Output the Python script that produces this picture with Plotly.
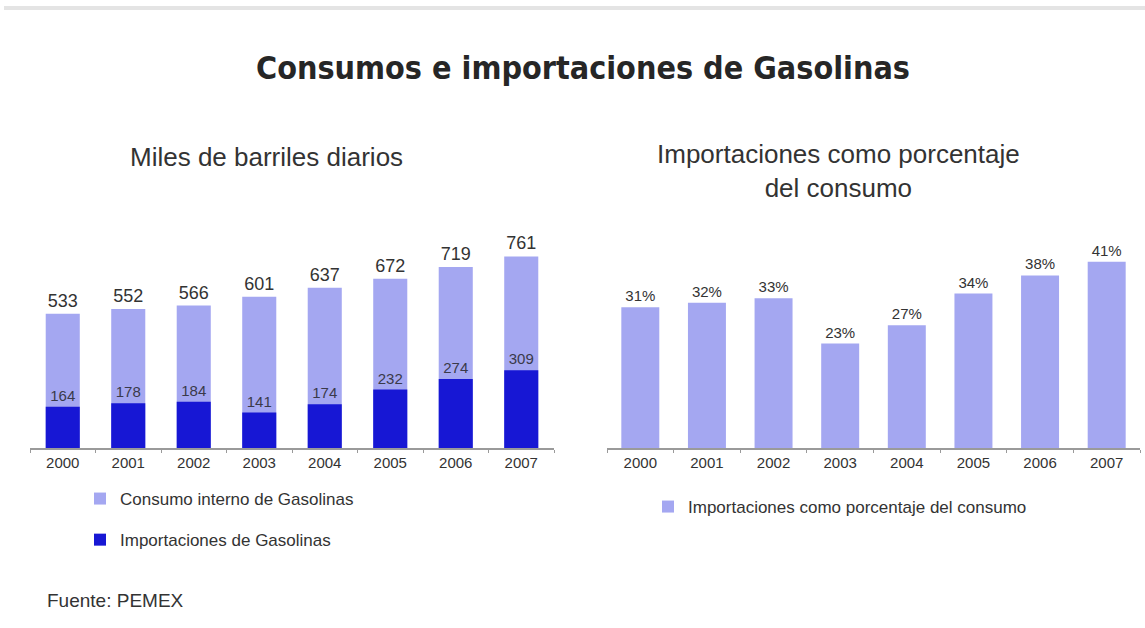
import plotly.graph_objects as go

years = ["2000", "2001", "2002", "2003", "2004", "2005", "2006", "2007"]
consumo = [533, 552, 566, 601, 637, 672, 719, 761]
importaciones = [164, 178, 184, 141, 174, 232, 274, 309]
porcentaje = [31, 32, 33, 23, 27, 34, 38, 41]

LIGHT = "#a4a7f1"
DARK = "#1717d4"
TXT = "#333333"
FONT = "Liberation Sans, Arial, sans-serif"

W, H = 1145, 628
def px_x(p): return p / W
def px_y(p): return 1 - p / H

fig = go.Figure()
fig.add_trace(go.Bar(
    x=years, y=consumo, name="Consumo interno de Gasolinas",
    marker=dict(color=LIGHT, line=dict(width=0)), width=0.52,
    text=[str(v) for v in consumo], textposition="outside",
    textfont=dict(size=18, color=TXT, family=FONT), cliponaxis=False,
    xaxis="x", yaxis="y", legend="legend", legendgroup="a",
))
fig.add_trace(go.Bar(
    x=years, y=importaciones, name="Importaciones de Gasolinas",
    marker=dict(color=DARK, line=dict(width=0)), width=0.52,
    text=[str(v) for v in importaciones], textposition="outside",
    textfont=dict(size=15, color="#3a3a4a", family=FONT), cliponaxis=False,
    xaxis="x", yaxis="y", legend="legend", legendgroup="b",
))
fig.add_trace(go.Bar(
    x=years, y=porcentaje, name="Importaciones como porcentaje del consumo",
    marker=dict(color=LIGHT, line=dict(width=0)), width=0.57,
    text=[f"{v}%" for v in porcentaje], textposition="outside",
    textfont=dict(size=15, color=TXT, family=FONT), cliponaxis=False,
    xaxis="x2", yaxis="y2", legend="legend2",
))

ydom = [px_y(448), px_y(230)]
axis_common = dict(
    showline=True, linecolor="#9a9a9a", linewidth=1.5,
    ticks="outside", tickson="boundaries", ticklen=3, tickcolor="#9a9a9a",
    tickfont=dict(size=15, color=TXT, family=FONT), showgrid=False,
    fixedrange=True,
)
fig.update_layout(
    width=W, height=H,
    margin=dict(l=0, r=0, t=0, b=0),
    paper_bgcolor="white", plot_bgcolor="white",
    barmode="overlay",
    font=dict(family=FONT, color=TXT),
    xaxis=dict(domain=[px_x(30), px_x(554)], anchor="y", **axis_common),
    yaxis=dict(domain=ydom, range=[0, 866], visible=False, anchor="x"),
    xaxis2=dict(domain=[px_x(607), px_x(1140)], anchor="y2", **axis_common),
    yaxis2=dict(domain=ydom, range=[0, 48], visible=False, anchor="x2"),
    legend=dict(
        x=px_x(80), y=px_y(481), xanchor="left", yanchor="top",
        orientation="v", tracegroupgap=16,
        font=dict(size=17, color=TXT, family=FONT), bgcolor="rgba(0,0,0,0)",
    ),
    legend2=dict(
        x=px_x(648), y=px_y(489), xanchor="left", yanchor="top",
        orientation="v",
        font=dict(size=17, color=TXT, family=FONT), bgcolor="rgba(0,0,0,0)",
    ),
    showlegend=True,
    annotations=[
        dict(text="<b>Consumos e importaciones de Gasolinas</b>", x=px_x(583), y=px_y(68),
             xref="paper", yref="paper", xanchor="center", yanchor="middle",
             showarrow=False,
             font=dict(size=32, color="#262626", family="DejaVu Sans Condensed, sans-serif")),
        dict(text="Miles de barriles diarios", x=px_x(266), y=px_y(157),
             xref="paper", yref="paper", xanchor="center", yanchor="middle",
             showarrow=False, font=dict(size=26, color=TXT, family=FONT)),
        dict(text="Importaciones como porcentaje<br>del consumo", x=px_x(838), y=px_y(171),
             xref="paper", yref="paper", xanchor="center", yanchor="middle",
             showarrow=False, font=dict(size=26, color=TXT, family=FONT)),
        dict(text="Fuente: PEMEX", x=px_x(45), y=px_y(600),
             xref="paper", yref="paper", xanchor="left", yanchor="middle",
             showarrow=False, font=dict(size=19, color=TXT, family=FONT)),
    ],
    shapes=[
        dict(type="line", xref="paper", yref="paper", x0=px_x(4), x1=1,
             y0=px_y(8), y1=px_y(8), line=dict(color="#e4e4e4", width=4)),
    ],
)

fig.write_html("out.html")
